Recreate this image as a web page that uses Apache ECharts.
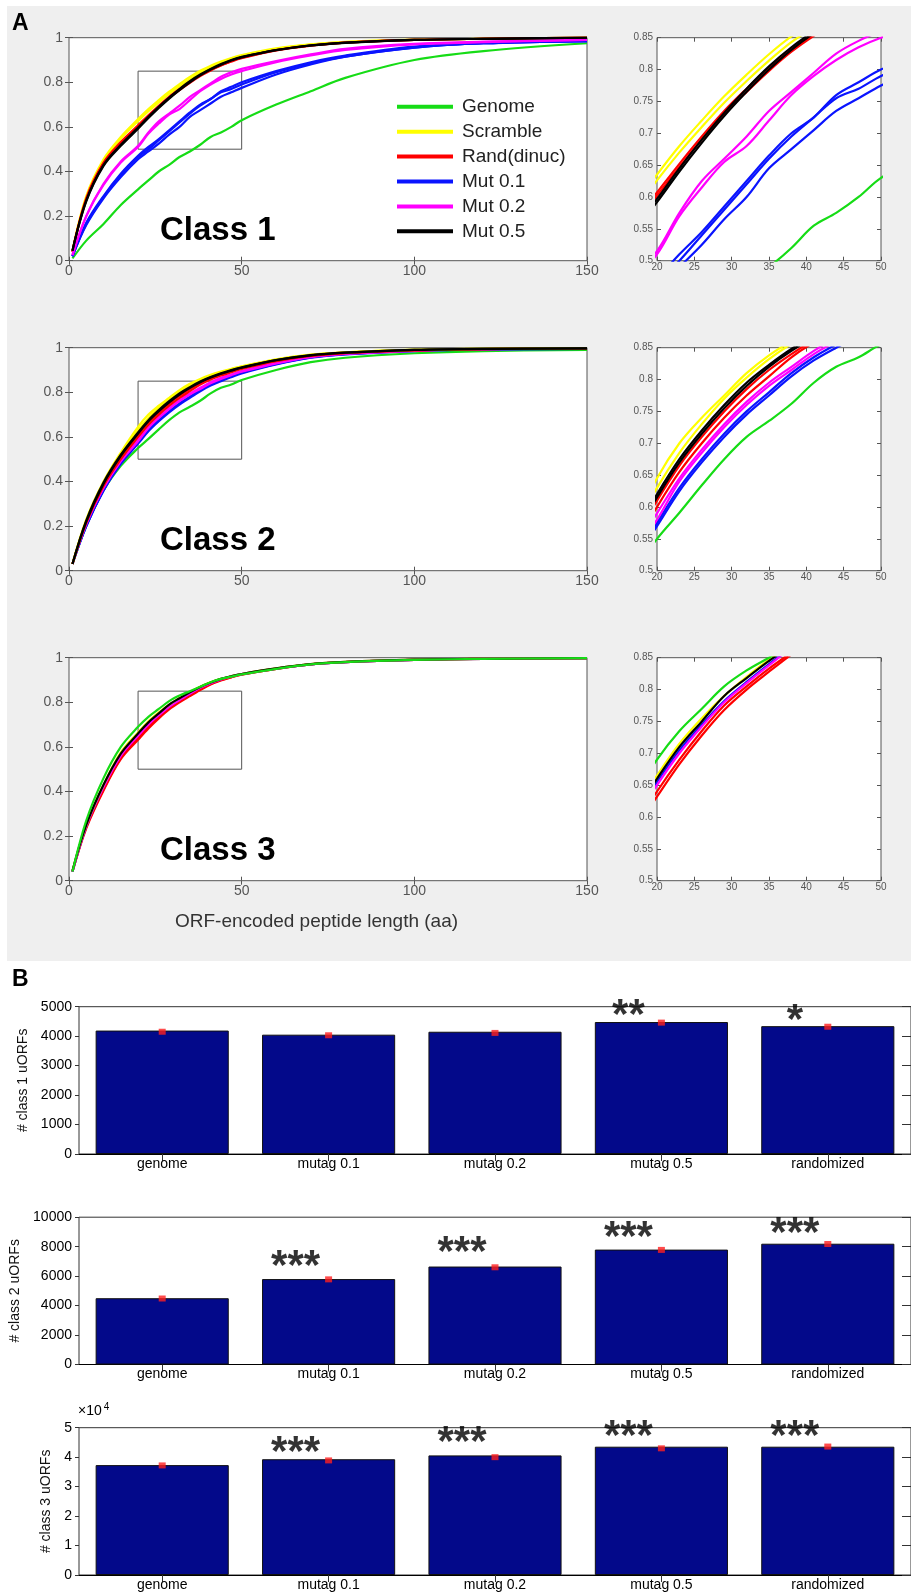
<!DOCTYPE html>
<html><head><meta charset="utf-8">
<script src="https://cdn.jsdelivr.net/npm/echarts@6/dist/echarts.min.js"></script>
<style>html,body{margin:0;padding:0;background:#fff}#c{width:911px;height:1593px}</style>
</head><body><div id="c"></div>
<script>
// ---------- DATA ----------
const X = [1, 5, 10, 15, 20, 23, 26, 29, 32, 35, 38, 41, 44, 47, 50, 60, 70, 80, 100, 120, 150];

// Class 1 cumulative fractions
const c1_genome   = [0.01,0.09,0.165,0.25,0.32,0.36,0.40,0.43,0.465,0.49,0.52,0.555,0.575,0.60,0.63,0.70,0.76,0.82,0.90,0.94,0.975];
const c1_scr_a    = [0.045,0.29,0.455,0.555,0.635,0.68,0.72,0.758,0.792,0.824,0.852,0.874,0.893,0.909,0.922,0.952,0.97,0.981,0.991,0.995,1.0];
const c1_scr_b    = [0.04,0.283,0.447,0.547,0.626,0.67,0.71,0.748,0.782,0.814,0.843,0.866,0.886,0.903,0.917,0.95,0.969,0.98,0.99,0.995,1.0];
const c1_rand_a   = [0.04,0.28,0.44,0.532,0.607,0.652,0.695,0.735,0.77,0.803,0.832,0.856,0.877,0.895,0.91,0.944,0.965,0.978,0.99,0.995,1.0];
const c1_rand_b   = [0.04,0.275,0.435,0.527,0.602,0.647,0.69,0.73,0.765,0.798,0.828,0.853,0.875,0.893,0.908,0.943,0.964,0.978,0.99,0.995,1.0];
const c1_mut01_a  = [0.02,0.17,0.29,0.39,0.47,0.51,0.545,0.585,0.625,0.665,0.70,0.725,0.76,0.78,0.80,0.85,0.89,0.92,0.96,0.975,0.985];
const c1_mut01_b  = [0.02,0.165,0.285,0.385,0.465,0.50,0.54,0.58,0.62,0.66,0.695,0.725,0.755,0.77,0.79,0.845,0.885,0.915,0.955,0.975,0.985];
const c1_mut01_c  = [0.02,0.16,0.28,0.375,0.455,0.49,0.525,0.565,0.60,0.645,0.675,0.705,0.735,0.755,0.775,0.835,0.88,0.915,0.955,0.975,0.985];
const c1_mut02_a  = [0.025,0.20,0.34,0.44,0.51,0.57,0.615,0.655,0.68,0.72,0.76,0.79,0.815,0.835,0.85,0.89,0.92,0.945,0.97,0.98,0.99];
const c1_mut02_b  = [0.025,0.20,0.345,0.445,0.515,0.575,0.625,0.66,0.695,0.735,0.765,0.795,0.825,0.845,0.86,0.895,0.925,0.95,0.972,0.982,0.99];
const c1_mut05_a  = [0.045,0.27,0.43,0.52,0.597,0.645,0.69,0.732,0.77,0.805,0.835,0.86,0.882,0.90,0.914,0.945,0.966,0.978,0.99,0.995,1.0];
const c1_mut05_b  = [0.045,0.266,0.425,0.515,0.592,0.64,0.685,0.727,0.765,0.80,0.831,0.857,0.879,0.898,0.912,0.944,0.965,0.977,0.99,0.995,1.0];

// Class 2 cumulative fractions
const c2_genome   = [0.03,0.20,0.36,0.47,0.55,0.591,0.634,0.675,0.71,0.735,0.762,0.795,0.82,0.835,0.855,0.90,0.935,0.955,0.975,0.985,0.99];
const c2_scr_a    = [0.03,0.23,0.40,0.53,0.645,0.70,0.74,0.775,0.81,0.838,0.86,0.878,0.893,0.905,0.917,0.948,0.969,0.979,0.991,0.995,0.998];
const c2_scr_b    = [0.03,0.225,0.395,0.525,0.63,0.685,0.73,0.77,0.803,0.832,0.856,0.875,0.89,0.903,0.915,0.947,0.968,0.979,0.99,0.995,0.998];
const c2_rand_a   = [0.03,0.215,0.38,0.50,0.60,0.655,0.70,0.74,0.775,0.805,0.835,0.858,0.875,0.89,0.905,0.94,0.963,0.976,0.988,0.994,0.997];
const c2_rand_b   = [0.03,0.22,0.385,0.51,0.61,0.665,0.71,0.75,0.785,0.815,0.84,0.862,0.88,0.894,0.908,0.942,0.965,0.977,0.989,0.994,0.997];
const c2_mut01_a  = [0.03,0.20,0.36,0.48,0.57,0.625,0.67,0.71,0.745,0.775,0.805,0.83,0.85,0.868,0.885,0.925,0.955,0.97,0.985,0.992,0.995];
const c2_mut01_b  = [0.03,0.20,0.36,0.48,0.575,0.63,0.675,0.715,0.75,0.78,0.81,0.835,0.855,0.872,0.888,0.927,0.956,0.971,0.986,0.992,0.995];
const c2_mut02_a  = [0.03,0.21,0.37,0.49,0.58,0.64,0.685,0.725,0.76,0.79,0.815,0.84,0.86,0.877,0.892,0.93,0.958,0.972,0.986,0.993,0.996];
const c2_mut02_b  = [0.03,0.21,0.375,0.495,0.59,0.645,0.69,0.73,0.765,0.795,0.82,0.845,0.865,0.88,0.895,0.932,0.96,0.973,0.987,0.993,0.996];
const c2_mut05_a  = [0.03,0.22,0.39,0.515,0.615,0.67,0.715,0.755,0.79,0.82,0.845,0.866,0.883,0.897,0.91,0.944,0.966,0.978,0.99,0.995,0.997];
const c2_mut05_b  = [0.03,0.225,0.395,0.52,0.62,0.675,0.72,0.76,0.795,0.823,0.848,0.868,0.885,0.90,0.912,0.945,0.967,0.978,0.99,0.995,0.997];

// Class 3 cumulative fractions
const c3_genome   = [0.04,0.27,0.46,0.60,0.69,0.735,0.77,0.805,0.83,0.85,0.87,0.89,0.905,0.915,0.925,0.95,0.97,0.98,0.99,0.995,0.998];
const c3_scr      = [0.045,0.25,0.43,0.575,0.665,0.715,0.755,0.79,0.82,0.847,0.87,0.89,0.905,0.917,0.927,0.952,0.971,0.981,0.991,0.995,0.998];
const c3_rand_a   = [0.04,0.24,0.41,0.55,0.64,0.69,0.735,0.775,0.805,0.833,0.858,0.882,0.90,0.913,0.925,0.95,0.97,0.98,0.99,0.995,0.998];
const c3_rand_b   = [0.04,0.235,0.405,0.545,0.632,0.683,0.728,0.768,0.80,0.828,0.855,0.88,0.898,0.912,0.924,0.95,0.97,0.98,0.99,0.995,0.998];
const c3_mut01    = [0.04,0.245,0.425,0.565,0.655,0.705,0.745,0.782,0.812,0.84,0.866,0.887,0.904,0.916,0.926,0.951,0.97,0.98,0.99,0.995,0.998];
const c3_mut02    = [0.04,0.245,0.42,0.56,0.65,0.70,0.742,0.78,0.81,0.838,0.865,0.886,0.903,0.916,0.926,0.951,0.97,0.98,0.99,0.995,0.998];
const c3_mut05    = [0.045,0.25,0.43,0.57,0.66,0.71,0.75,0.79,0.818,0.845,0.869,0.889,0.905,0.917,0.927,0.952,0.971,0.981,0.991,0.995,0.998];

const zoomBoxX = [20, 50, 50, 20, 20];
const zoomBoxY = [0.5, 0.5, 0.85, 0.85, 0.5];

const legendNames = ['Genome', 'Scramble', 'Rand(dinuc)', 'Mut 0.1', 'Mut 0.2', 'Mut 0.5'];
const classLabels = ['Class 1', 'Class 2', 'Class 3'];

// Panel B
const barCategories = ['genome', 'mutag 0.1', 'mutag 0.2', 'mutag 0.5', 'randomized'];
const class1Counts = [4190, 4050, 4150, 4480, 4340];
const class2Counts = [4500, 5800, 6650, 7800, 8200];
const class3Counts = [37300, 39300, 40600, 43550, 43550];
const class1Err = [4150, 4030, 4110, 4460, 4320];
const class2Err = [4480, 5780, 6600, 7780, 8180];
const class3Err = [37200, 38900, 40000, 43000, 43600];
const class1Stars = ['', '', '', '**', '*'];
const class2Stars = ['', '***', '***', '***', '***'];
const class3Stars = ['', '***', '***', '***', '***'];
const class1StarY = [null, null, null, 4864, 4718];
const class2StarY = [null, 6980, 7970, 8980, 9250];
const class3StarY = [null, 43210, 46740, 48640, 48640];
const yNames = ['# class 1 uORFs', '# class 2 uORFs', '# class 3 uORFs'];

// ---------- BUILD ----------
const FONT = 'Liberation Sans, Arial, Helvetica, sans-serif';
const COL = {
  'Genome': '#16dc16', 'Scramble': '#ffff00', 'Rand(dinuc)': '#ff0000',
  'Mut 0.1': '#0a14ff', 'Mut 0.2': '#ff00ff', 'Mut 0.5': '#000000'
};
const classCurves = [
  [['Genome', c1_genome], ['Scramble', c1_scr_a], ['Scramble', c1_scr_b], ['Rand(dinuc)', c1_rand_a], ['Rand(dinuc)', c1_rand_b],
   ['Mut 0.1', c1_mut01_a], ['Mut 0.1', c1_mut01_b], ['Mut 0.1', c1_mut01_c], ['Mut 0.2', c1_mut02_a], ['Mut 0.2', c1_mut02_b],
   ['Mut 0.5', c1_mut05_a], ['Mut 0.5', c1_mut05_b]],
  [['Genome', c2_genome], ['Mut 0.1', c2_mut01_a], ['Mut 0.1', c2_mut01_b], ['Mut 0.2', c2_mut02_a], ['Mut 0.2', c2_mut02_b],
   ['Rand(dinuc)', c2_rand_a], ['Rand(dinuc)', c2_rand_b], ['Scramble', c2_scr_a], ['Scramble', c2_scr_b],
   ['Mut 0.5', c2_mut05_a], ['Mut 0.5', c2_mut05_b]],
  [['Rand(dinuc)', c3_rand_a], ['Rand(dinuc)', c3_rand_b], ['Mut 0.1', c3_mut01], ['Mut 0.2', c3_mut02],
   ['Scramble', c3_scr], ['Mut 0.5', c3_mut05], ['Genome', c3_genome]]
];

const grid = [], xAxis = [], yAxis = [], series = [];
const tickStyle = (len, col) => ({ show: true, inside: true, length: len, lineStyle: { color: col, width: 1 } });

function curveGrid(left, top, width, height, xr, yr, fs, xm, ym, lw) {
  const gi = grid.length;
  grid.push({ left, top, width, height, show: true, backgroundColor: '#fff', borderColor: '#555', borderWidth: 1 });
  const xi = xAxis.length, yi = yAxis.length;
  const lab = { fontSize: fs, color: '#555', fontFamily: FONT };
  xAxis.push({ gridIndex: gi, type: 'value', min: xr[0], max: xr[1], interval: xr[2], axisLine: { show: false },
    axisTick: tickStyle(4, '#555'), splitLine: { show: false }, axisLabel: Object.assign({ margin: xm }, lab) });
  xAxis.push({ gridIndex: gi, type: 'value', position: 'top', min: xr[0], max: xr[1], interval: xr[2], axisLine: { show: false },
    axisTick: tickStyle(4, '#555'), splitLine: { show: false }, axisLabel: { show: false } });
  yAxis.push({ gridIndex: gi, type: 'value', min: yr[0], max: yr[1], interval: yr[2], axisLine: { show: false },
    axisTick: tickStyle(4, '#555'), splitLine: { show: false }, axisLabel: Object.assign({ margin: ym }, lab) });
  yAxis.push({ gridIndex: gi, type: 'value', position: 'right', min: yr[0], max: yr[1], interval: yr[2], axisLine: { show: false },
    axisTick: tickStyle(4, '#555'), splitLine: { show: false }, axisLabel: { show: false } });
  return { xi, yi, lw };
}

function addCurves(ax, curves, withBox) {
  if (withBox) {
    series.push({ type: 'line', xAxisIndex: ax.xi, yAxisIndex: ax.yi, data: zoomBoxX.map((x, i) => [x, zoomBoxY[i]]),
      showSymbol: false, symbol: 'none', silent: true, lineStyle: { color: '#555', width: 1 }, z: 1 });
  }
  curves.forEach(([name, ys]) => {
    series.push({ type: 'line', name, xAxisIndex: ax.xi, yAxisIndex: ax.yi, data: X.map((x, i) => [x, ys[i]]),
      showSymbol: false, symbol: 'none', smooth: 0.35, silent: true, color: COL[name],
      itemStyle: { color: COL[name] }, lineStyle: { color: COL[name], width: ax.lw }, z: 2 });
  });
}

const tops = [37.7, 347.7, 657.7];
tops.forEach((t, k) => {
  const main = curveGrid(69, t, 518, 223, [0, 150, 50], [0, 1, 0.2], 14, 3, 6, 2.2);
  addCurves(main, classCurves[k], true);
  const ins = curveGrid(657, t, 224, 223, [20, 50, 5], [0.5, 0.85, 0.05], 10, 2, 4, 2.2);
  addCurves(ins, classCurves[k], false);
});

// bar charts
const barTops = [1006.7, 1217.2, 1427.7];
const barData = [class1Counts, class2Counts, class3Counts];
const errData = [class1Err, class2Err, class3Err];
const starText = [class1Stars, class2Stars, class3Stars];
const starY = [class1StarY, class2StarY, class3StarY];
const yMax = [5000, 10000, 50000];
const yInt = [1000, 2000, 10000];
const nameGaps = [47, 56, 22];
barTops.forEach((t, k) => {
  const gi = grid.length;
  grid.push({ left: 79, top: t, width: 836, height: 147.3, show: true, backgroundColor: '#fff', borderColor: '#333', borderWidth: 1 });
  const xi = xAxis.length, yi = yAxis.length;
  xAxis.push({ gridIndex: gi, type: 'category', data: barCategories, axisLine: { show: true, lineStyle: { color: '#000' } },
    axisTick: { show: false }, axisLabel: { fontSize: 14, color: '#000', margin: 3, fontFamily: FONT } });
  xAxis.push({ gridIndex: gi, type: 'category', data: barCategories, position: 'top', axisLine: { show: false },
    axisTick: { show: true, inside: true, alignWithLabel: true, length: 7, lineStyle: { color: '#333' } }, axisLabel: { show: false } });
  yAxis.push({ gridIndex: gi, type: 'value', min: 0, max: yMax[k], interval: yInt[k], axisLine: { show: false },
    splitLine: { show: false }, axisTick: { show: true, inside: false, length: 4, lineStyle: { color: '#333' } },
    axisLabel: { fontSize: 14, color: '#000', margin: 7, fontFamily: FONT,
      formatter: v => k === 2 ? String(v / 10000) : String(v) },
    name: yNames[k], nameLocation: 'middle', nameGap: nameGaps[k], nameRotate: 90,
    nameTextStyle: { fontSize: 14, color: '#111', fontFamily: FONT } });
  yAxis.push({ gridIndex: gi, type: 'value', position: 'right', min: 0, max: yMax[k], interval: yInt[k], axisLine: { show: false },
    splitLine: { show: false }, axisTick: { show: true, inside: true, length: 9, lineStyle: { color: '#333' } }, axisLabel: { show: false } });
  series.push({ type: 'bar', xAxisIndex: xi, yAxisIndex: yi, data: barData[k], barWidth: '80%', silent: true,
    itemStyle: { color: '#03098a', borderColor: '#111', borderWidth: 1 } });
  series.push({ type: 'scatter', xAxisIndex: xi, yAxisIndex: yi, data: errData[k].map((v, i) => [i, v]), silent: true,
    symbol: 'rect', symbolSize: [7, 6], itemStyle: { color: '#ff1f1f' }, z: 5 });
  const sd = [];
  starY[k].forEach((v, i) => { if (v !== null && starText[k][i]) sd.push({ value: [i, v], txt: starText[k][i] }); });
  series.push({ type: 'scatter', xAxisIndex: xi, yAxisIndex: yi, data: sd, silent: true, symbolSize: 1,
    itemStyle: { color: 'rgba(0,0,0,0)' }, z: 6,
    label: { show: true, position: 'inside', offset: [-33, 6], formatter: p => p.data.txt,
      fontSize: 42, fontWeight: 'bold', color: '#000', fontFamily: FONT } });
});

const graphic = [
  { type: 'rect', shape: { x: 7, y: 6, width: 904, height: 955 }, style: { fill: '#efefef' }, z: -10, silent: true },
  { type: 'text', left: 12, top: 12, style: { text: 'A', font: 'bold 23px ' + FONT, fill: '#000' } },
  { type: 'text', left: 12, top: 968, style: { text: 'B', font: 'bold 23px ' + FONT, fill: '#000' } },
  { type: 'text', left: 175, top: 912, style: { text: 'ORF-encoded peptide length (aa)', font: '19px ' + FONT, fill: '#333' } },
  { type: 'text', left: 78, top: 1402, style: { text: '{a|×10}{b|4}', font: '14px ' + FONT, fill: '#000',
      rich: { a: { fontSize: 14, fontFamily: FONT, fill: '#000' }, b: { fontSize: 10, fontFamily: FONT, fill: '#000', verticalAlign: 'top', padding: [0, 0, 8, 2] } } } }
];
classLabels.forEach((t, k) => {
  graphic.push({ type: 'text', left: 160, top: tops[k] + 196 - 19, z: 50,
    style: { text: t, font: 'bold 33px ' + FONT, fill: '#000' } });
});

const option = {
  animation: false,
  backgroundColor: '#fff',
  graphic,
  legend: {
    data: legendNames, orient: 'vertical', left: 392, top: 91.8, itemWidth: 56, itemHeight: 4, itemGap: 4.9,
    icon: 'rect', selectedMode: false, z: 20,
    textStyle: { fontSize: 19, color: '#222', lineHeight: 20, fontFamily: FONT, padding: [0, 0, 0, 4] }
  },
  grid, xAxis, yAxis, series
};
const chart = echarts.init(document.getElementById('c'), null, { renderer: 'canvas' });
chart.setOption(option);
</script>
</body></html>
